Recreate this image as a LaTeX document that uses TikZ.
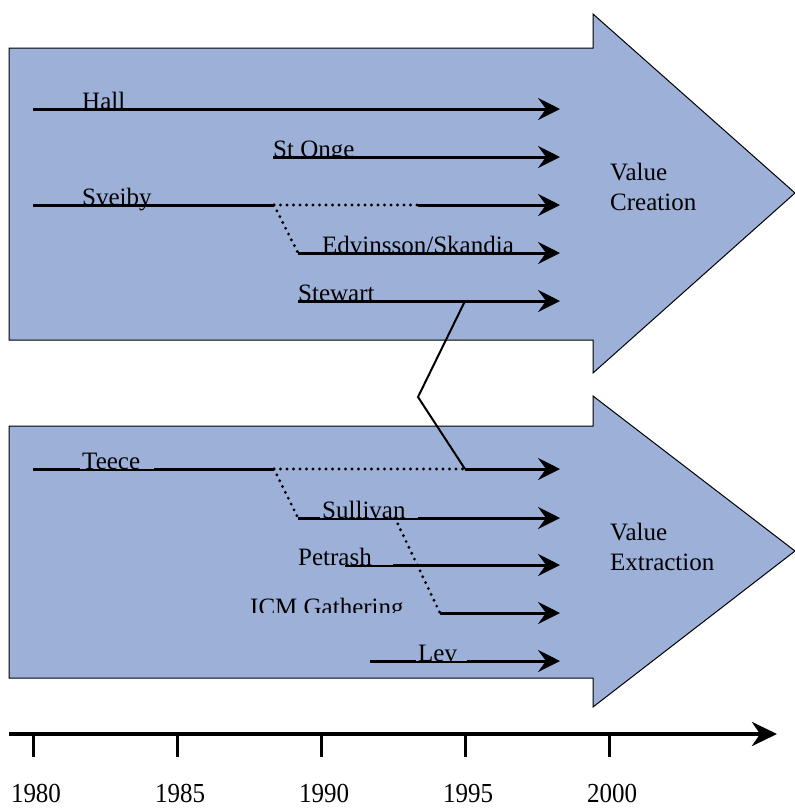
\documentclass[tikz,border=0pt]{standalone}
\usepackage{fontspec}
\setmainfont{Liberation Serif}
\usetikzlibrary{arrows.meta}
\definecolor{arrowfill}{RGB}{157,176,216}
\begin{document}
\begin{tikzpicture}[x=1pt,y=-1pt,
  every node/.style={font=\fontsize{25}{30}\selectfont, inner sep=0pt},
  bigarrow/.style={fill=arrowfill, draw=black, line width=1pt},
  track/.style={line width=3pt},
  lead/.style={track, -{Stealth[length=22pt,width=22pt,inset=8pt]}},
  dots/.style={line width=3.2pt, line cap=round, dash pattern=on 0pt off 6.5pt},
  link/.style={line width=2pt},
  lbl/.style={anchor=base west},
  gaplbl/.style={anchor=base west, fill=arrowfill, inner xsep=2pt, inner ysep=0pt, align=left},
  axis/.style={line width=4pt, -{Stealth[length=25pt,width=24pt,inset=8pt]}},
  tick/.style={line width=3pt},
  year/.style={anchor=base}
]
\useasboundingbox (0,0) rectangle (795,809);

% the two block arrows
\path[bigarrow] (9,48) -- (593,48) -- (593,14) -- (795,193) -- (593,373)
  -- (593,340) -- (9,340) -- cycle;
\path[bigarrow] (9,426) -- (593,426) -- (593,396) -- (795,551) -- (593,707)
  -- (593,678) -- (9,678) -- cycle;

% end points of the time lines
\coordinate (hallA) at (33,109);  \coordinate (hallD) at (560,109);
\coordinate (ongeA) at (273,157); \coordinate (ongeD) at (560,157);
\coordinate (sveA)  at (33,205);  \coordinate (sveB)  at (274,205);
\coordinate (sveC)  at (418,205); \coordinate (sveD)  at (560,205);
\coordinate (edvA)  at (298,253); \coordinate (edvD)  at (560,253);
\coordinate (stwA)  at (298,301); \coordinate (stwK)  at (465,301);
\coordinate (stwD)  at (560,301);
\coordinate (kink)  at (418,397);
\coordinate (teeA)  at (33,469);  \coordinate (teeB)  at (274,469);
\coordinate (teeK)  at (465,469); \coordinate (teeD)  at (560,469);
\coordinate (sulA)  at (298,518); \coordinate (sulB)  at (395,518);
\coordinate (sulD)  at (560,518);
\coordinate (petA)  at (345,565); \coordinate (petD)  at (560,565);
\coordinate (icmA)  at (440,613); \coordinate (icmD)  at (560,613);
\coordinate (levA)  at (370,661); \coordinate (levD)  at (560,661);

% value creation
\draw[lead] (hallA) -- (hallD);
\draw[lead] (ongeA) -- (ongeD);
\draw[track] (sveA) -- (sveB);
\draw[dots] (sveB) -- (sveC);
\draw[lead] (sveC) -- (sveD);
\draw[dots] (sveB) -- (edvA);
\draw[lead] (edvA) -- (edvD);
\draw[lead] (stwA) -- (stwD);

\node[lbl] (hall) at (82,109) {Hall};
\begin{scope}
  \clip (260,130) rectangle (400,156);
  \node[lbl] (onge) at (273,157) {St Onge};
\end{scope}
\node[lbl] (sveiby) at (82,205) {Sveiby};
\begin{scope}
  \clip (310,225) rectangle (540,252);
  \node[lbl] (edv) at (322,253) {Edvinsson/Skandia};
\end{scope}
\node[lbl] (stewart) at (298,301) {Stewart};

\node[anchor=north west, align=left] (vc) at (610,163) {Value\\Creation};

% value extraction
\draw[track] (teeA) -- (teeB);
\draw[dots] (teeB) -- (teeK);
\draw[lead] (teeK) -- (teeD);
\draw[dots] (teeB) -- (sulA);
\draw[lead] (sulA) -- (sulD);
\draw[lead] (petA) -- (petD);
\draw[lead] (icmA) -- (icmD);
\draw[lead] (levA) -- (levD);

\node[gaplbl, text width=70pt] (teece) at (80,469) {Teece};
\node[gaplbl, text width=94pt] (sullivan) at (320,518) {Sullivan};
\node[gaplbl, text width=93pt] (petrash) at (296,565) {Petrash};
\node[gaplbl, text width=47pt] (lev) at (416,661) {Lev};
\begin{scope}
  \clip (240,590) rectangle (430,612);
  \node[lbl] (icm) at (250,615) {ICM Gathering};
\end{scope}

\draw[dots] (sulB) -- (icmA);

\node[anchor=north west, align=left] (ve) at (610,523) {Value\\Extraction};

% link between Stewart and Teece
\draw[link] (stwK) -- (kink) -- (teeK);

% time axis
\coordinate (axA) at (9,734);
\coordinate (axB) at (777,734);
\draw[axis] (axA) -- (axB);
\foreach \yr/\xx in {1980/33,1985/177,1990/321,1995/465,2000/609}{
  \coordinate (t\yr) at (\xx,734);
  \coordinate (b\yr) at (\xx,757);
  \draw[tick] (t\yr) -- (b\yr);
  \node[year] (y\yr) at (\xx+3,802) {\scalebox{1}[1.1]{\yr}};
}
\end{tikzpicture}
\end{document}
